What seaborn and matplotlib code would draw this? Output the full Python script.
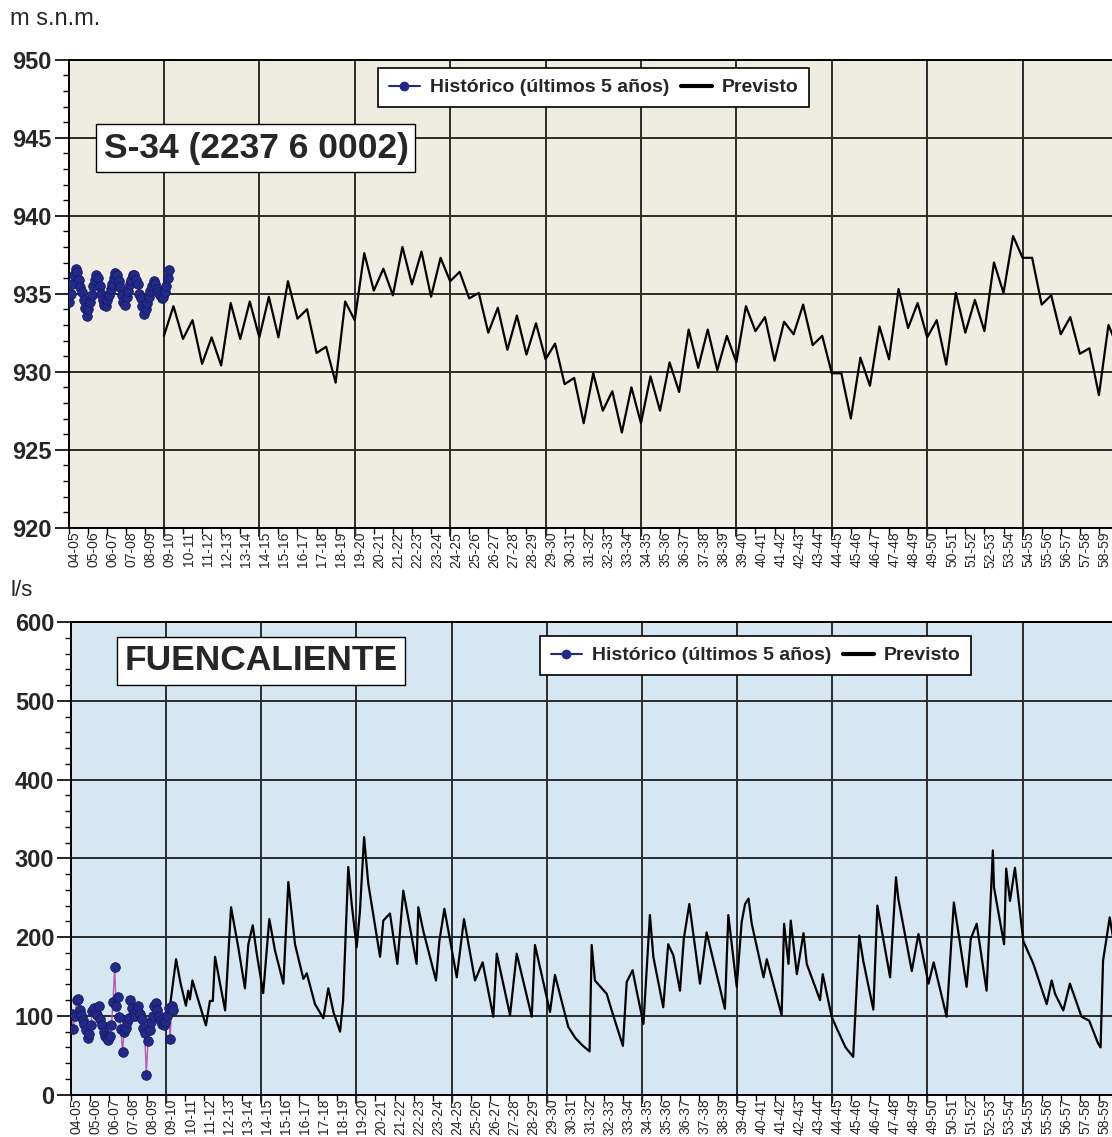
import numpy as np
import pandas as pd
import matplotlib
matplotlib.use("Agg")
import matplotlib.pyplot as plt
from matplotlib.lines import Line2D
from matplotlib.ticker import MultipleLocator, FixedLocator
import seaborn as sns

# ---------------------------------------------------------------- data
# hydrological years on the x axis (04-05 ... 58-59)
years = [f"{y:02d}-{y + 1:02d}" for y in range(4, 59)]

# S-34 piezometer, groundwater level (m s.n.m.)
s34_hist = [934.5, 935.0, 935.6, 936.2, 936.6, 936.4, 935.9, 935.4, 935.1, 934.6, 934.1, 933.6,
            934.0, 934.5, 934.9, 935.5, 935.9, 936.2, 936.0, 935.5, 935.0, 934.6, 934.3, 934.2,
            934.6, 934.9, 935.3, 935.6, 936.0, 936.3, 936.2, 935.8, 935.4, 934.9, 934.5, 934.3,
            934.8, 935.2, 935.6, 935.9, 936.2, 936.2, 935.9, 935.6, 935.0, 934.7, 934.2, 933.7,
            934.0, 934.4, 934.8, 935.2, 935.5, 935.8, 935.6, 935.3, 935.1, 934.9, 934.7, 934.8,
            935.1, 935.5, 936.0, 936.5]
# half-yearly forecast starting 09-10
s34_fore = [932.3, 934.2, 932.1, 933.3, 930.5, 932.2, 930.4, 934.4, 932.1, 934.5,
            932.2, 934.8, 932.2, 935.8, 933.4, 934.0, 931.2, 931.6, 929.3, 934.5,
            933.3, 937.6, 935.2, 936.6, 934.9, 938.0, 935.6, 937.7, 934.8, 937.3,
            935.8, 936.4, 934.7, 935.05, 932.5, 934.1, 931.4, 933.6, 931.1, 933.1,
            930.8, 931.8, 929.2, 929.6, 926.7, 929.9, 927.5, 928.75, 926.1, 929.0,
            926.7, 929.7, 927.5, 930.6, 928.7, 932.7, 930.25, 932.7, 930.1, 932.3,
            930.6, 934.2, 932.6, 933.5, 930.7, 933.2, 932.4, 934.3, 931.7, 932.3,
            929.9, 929.9, 927.0, 930.9, 929.1, 932.9, 930.8, 935.3, 932.8, 934.4,
            932.2, 933.3, 930.45, 935.05, 932.5, 934.6, 932.6, 937.0, 935.05, 938.7,
            937.3, 937.3, 934.3, 934.9, 932.4, 933.5, 931.15, 931.5, 928.5, 933.0,
            931.5]

# Fuencaliente spring discharge (l/s)
fuen_hist = [103, 84, 100, 120, 121, 108, 101, 95, 90, 82, 72, 77,
             89, 106, 110, 104, 101, 112, 96, 89, 80, 74, 72, 70,
             75, 88, 118, 162, 112, 124, 98, 84, 54, 80, 85, 92,
             97, 120, 110, 104, 100, 108, 112, 103, 96, 85, 78, 25,
             68, 82, 92, 100, 112, 117, 108, 100, 95, 90, 88, 92,
             100, 110, 71, 112, 108]
# forecast: time (years since Oct 2004) and discharge
fuen_fore_t = [5.0, 5.11, 5.52, 5.76, 6.04, 6.16, 6.25, 6.38, 6.6, 7.09, 7.3, 7.45, 7.57, 7.83,
               8.1, 8.41, 8.79, 9.14, 9.32, 9.55, 9.76, 10.1, 10.42, 10.72, 11.16, 11.42, 11.77,
               12.21, 12.39, 12.82, 13.26, 13.52, 13.79, 14.14, 14.3, 14.57, 14.75, 15.01, 15.18,
               15.4, 15.62, 16.24, 16.41, 16.76, 17.15, 17.46, 18.16, 18.25, 18.51, 19.18, 19.35,
               19.62, 20.27, 20.65, 21.23, 21.63, 22.19, 22.37, 23.07, 23.42, 24.21, 24.38, 25.17,
               25.43, 26.13, 26.5, 26.9, 27.25, 27.36, 27.53, 28.15, 28.41, 29.0, 29.2, 29.51,
               29.72, 30.08, 30.42, 30.6, 31.12, 31.38, 31.65, 32.0, 32.2, 32.49, 33.05, 33.4,
               34.36, 34.54, 34.98, 35.24, 35.42, 35.6, 35.77, 36.39, 36.56, 37.34, 37.47, 37.7,
               37.82, 38.14, 38.49, 38.66, 39.36, 39.5, 39.97, 40.24, 40.7, 41.1, 41.42, 41.63,
               42.16, 42.37, 43.04, 43.35, 43.47, 44.18, 44.53, 45.06, 45.33, 46.01, 46.39, 47.06,
               47.28, 47.59, 48.11, 48.44, 48.5, 49.03, 49.14, 49.34, 49.6, 50.04, 50.57, 51.27,
               51.53, 51.71, 52.14, 52.49, 53.1, 53.5, 53.97, 54.1, 54.23, 54.58, 55.0]
fuen_fore_v = [100, 95, 172, 141, 113, 132, 121, 145, 127, 88, 119, 119, 175, 141,
               107, 238, 187, 135, 191, 215, 179, 129, 223, 183, 141, 270, 191,
               147, 154, 115, 97, 135, 105, 80, 120, 289, 242, 187, 232,
               327, 268, 175, 221, 230, 166, 259, 166, 238, 208, 145, 194,
               236, 149, 223, 145, 168, 99, 179, 101, 179, 99, 190, 105,
               152, 86, 72, 62, 55, 190, 145, 128, 107, 62, 143, 158,
               132, 90, 228, 175, 111, 191, 177, 132, 198, 242, 141, 206,
               109, 228, 137, 219, 242, 249, 217, 149, 172, 101, 217, 166,
               221, 153, 205, 166, 120, 153, 99, 84, 60, 48, 202, 170,
               108, 240, 149, 276, 249, 157, 204, 141, 168, 99, 244, 137,
               198, 217, 132, 310, 263, 191, 287, 246, 288, 195, 166, 115,
               145, 128, 107, 141, 99, 94, 65, 60, 170, 225, 165]

s34_yticks = [920, 925, 930, 935, 940, 945, 950]
fuen_yticks = [0, 100, 200, 300, 400, 500, 600]

# ---------------------------------------------------------------- frames
month = 1.0 / 12.0
df_s34_hist = pd.DataFrame({"t": np.arange(len(s34_hist)) * month + month / 2, "v": s34_hist})
df_s34_fore = pd.DataFrame({"t": 5.0 + 0.5 * np.arange(len(s34_fore)), "v": s34_fore})
df_fuen_hist = pd.DataFrame({"t": np.arange(len(fuen_hist)) * month + month / 2, "v": fuen_hist})
df_fuen_fore = pd.DataFrame({"t": fuen_fore_t, "v": fuen_fore_v})

# ---------------------------------------------------------------- style
sns.set_style("ticks")
plt.rcParams["font.family"] = ["Liberation Sans", "DejaVu Sans"]

W, H = 1112, 1137
fig = plt.figure(figsize=(W / 100, H / 100), dpi=100)
fig.patch.set_facecolor("white")

ax1 = fig.add_axes([68.5 / W, 1 - 527.7 / H, 1049.5 / W, 468.0 / H])
ax2 = fig.add_axes([71.0 / W, 1 - 1094.7 / H, 1046.7 / W, 472.7 / H])

HIST_DOT = "#23298a"
HIST_LINE = "#b85ab0"
GRID = "#2b2b2b"


def style_axes(ax, bg, yticks, yminor):
    ax.set_facecolor(bg)
    ax.set_xlim(0, 55)
    ax.set_ylim(yticks[0], yticks[-1])
    ax.set_yticks(yticks)
    ax.set_yticklabels([str(v) for v in yticks], fontweight="bold", fontsize=17)
    ax.yaxis.set_minor_locator(MultipleLocator(yminor))
    ax.xaxis.set_major_locator(FixedLocator(np.arange(len(years)) + 0.3))
    ax.set_xticklabels(years, rotation=90, fontsize=10)
    ax.xaxis.set_minor_locator(MultipleLocator(1))
    ax.tick_params(axis="x", which="major", length=0, pad=3)
    ax.tick_params(axis="x", which="minor", length=4, width=1, color="black")
    ax.tick_params(axis="y", which="major", length=10, width=1.2, pad=2, color="black")
    ax.tick_params(axis="y", which="minor", length=4, width=1, color="black")
    ax.grid(False)
    ax.yaxis.grid(True, which="major", color=GRID, lw=1.4)
    ax.set_axisbelow(True)
    for x in range(5, 56, 5):
        ax.axvline(x, ymin=-0.018, ymax=1, color=GRID, lw=1.4, clip_on=False, zorder=1)
    ax.spines["right"].set_visible(False)
    for s in ["left", "bottom", "top"]:
        ax.spines[s].set_color("black")
        ax.spines[s].set_linewidth(1.4)
    ax.set_xlabel("")
    ax.set_ylabel("")


# ---------------------------------------------------------------- S-34
sns.lineplot(data=df_s34_hist, x="t", y="v", ax=ax1, color=HIST_LINE, lw=1.0, zorder=3)
sns.scatterplot(data=df_s34_hist, x="t", y="v", ax=ax1, color=HIST_DOT, s=48,
                edgecolor="#161a5e", linewidth=0.6, zorder=4)
sns.lineplot(data=df_s34_fore, x="t", y="v", ax=ax1, color="black", lw=1.6, zorder=3)
style_axes(ax1, "#efede1", s34_yticks, 1)

# ---------------------------------------------------------------- Fuencaliente
sns.lineplot(data=df_fuen_hist, x="t", y="v", ax=ax2, color=HIST_LINE, lw=1.0, zorder=3)
sns.scatterplot(data=df_fuen_hist, x="t", y="v", ax=ax2, color=HIST_DOT, s=48,
                edgecolor="#161a5e", linewidth=0.6, zorder=4)
sns.lineplot(data=df_fuen_fore, x="t", y="v", ax=ax2, color="black", lw=1.6, zorder=3)
style_axes(ax2, "#d7e7f2", fuen_yticks, 20)

# ---------------------------------------------------------------- annotations
handles = [Line2D([], [], color=HIST_DOT, marker="o", markersize=6, lw=1.5),
           Line2D([], [], color="black", lw=3)]
labels = ["Histórico (últimos 5 años)", "Previsto"]
for (lx, ly) in [(378, 68), (540, 636)]:
    leg = fig.legend(handles, labels, loc="upper left",
                     bbox_to_anchor=(lx / W, 1 - ly / H), borderaxespad=0,
                     ncol=2, frameon=True,
                     fancybox=False, edgecolor="black", framealpha=1, facecolor="white",
                     prop={"family": ["Liberation Sans"], "weight": "bold", "size": 14},
                     handlelength=1.6, columnspacing=0.6, handletextpad=0.5,
                     borderpad=0.55)
    leg.get_frame().set_linewidth(1.2)

box = dict(boxstyle="square,pad=0.2", fc="white", ec="black", lw=1.0)
fig.text(103.5 / W, 1 - 148 / H, "S-34 (2237 6 0002)", fontsize=25.5, fontweight="bold",
         ha="left", va="center", bbox=box)
fig.text(124.5 / W, 1 - 661 / H, "FUENCALIENTE", fontsize=25.5, fontweight="bold",
         ha="left", va="center", bbox=box)

fig.text(10 / W, 1 - 19 / H, "m s.n.m.", fontsize=17, ha="left", va="center")
fig.text(10 / W, 1 - 591 / H, "l/s", fontsize=16, ha="left", va="center")

fig.savefig("out.png", dpi=100)
